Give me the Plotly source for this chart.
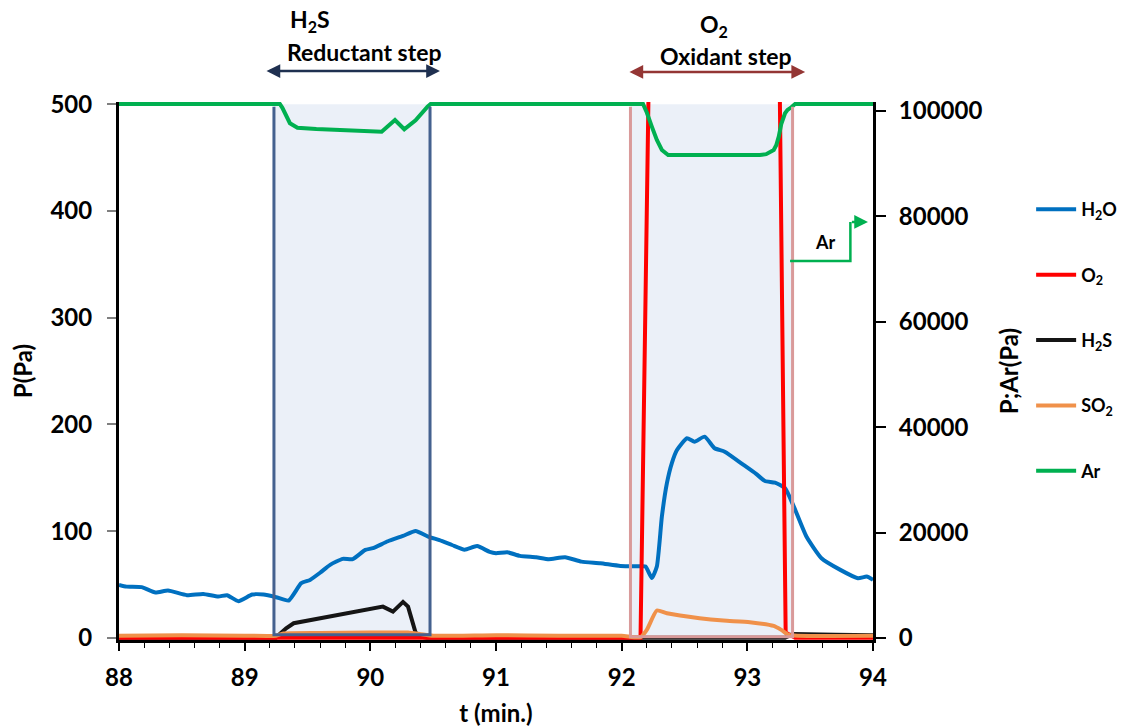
import plotly.graph_objects as go

# ---- measured partial pressures during one reduction / oxidation cycle ----
# H2O (Pa, left axis)
t_h2o = [88.0, 88.06, 88.18, 88.29, 88.39, 88.54, 88.67, 88.79, 88.86, 88.95,
         89.06, 89.15, 89.25, 89.35, 89.45, 89.52, 89.60, 89.68, 89.78, 89.86,
         89.96, 90.02, 90.14, 90.26, 90.36, 90.46, 90.55, 90.65, 90.75, 90.85,
         90.95, 91.00, 91.09, 91.19, 91.32, 91.42, 91.55, 91.68, 91.83, 91.99,
         92.15, 92.19, 92.24, 92.28, 92.32, 92.36, 92.40, 92.44, 92.52, 92.58,
         92.66, 92.74, 92.82, 92.97, 93.07, 93.14, 93.22, 93.30, 93.37, 93.47,
         93.59, 93.74, 93.88, 93.95, 94.0]
p_h2o = [49.6, 48.0, 47.5, 42.4, 44.3, 40.0, 41.2, 38.7, 40.0, 34.4,
         40.6, 40.6, 38.1, 35.0, 51.2, 54.3, 61.0, 68.4, 74.0, 73.7,
         82.4, 84.0, 90.5, 95.5, 100.2, 94.9, 91.5, 87.0, 82.6, 86.0,
         80.5, 79.3, 80.2, 76.8, 75.5, 73.7, 75.5, 71.4, 69.9, 67.4,
         67.0, 66.8, 56.0, 66.8, 113.6, 144.9, 164.0, 176.0, 187.0, 183.8,
         188.5, 177.6, 174.4, 162.0, 153.6, 147.0, 145.4, 140.2, 123.0, 94.9,
         74.6, 63.7, 55.9, 57.4, 54.3]

# O2 (Pa, left axis) - saturates far above the 500 Pa scale in the oxidant step
t_o2 = [88.0, 92.15, 92.225, 93.25, 93.305, 93.34, 93.38, 94.0]
p_o2 = [0, 0, 600, 600, 5, 3, 0, 0]

# H2S (Pa, left axis)
t_h2s = [88.0, 89.25, 89.28, 89.33, 89.39, 89.60, 89.80, 90.00, 90.10, 90.18,
         90.26, 90.30, 90.36, 90.40, 90.45, 93.30, 93.36, 93.70, 94.0]
p_h2s = [0, 0, 3.7, 9.0, 13.7, 18.5, 23.0, 27.0, 29.3, 24.6,
         33.7, 29.3, 5.0, 1.2, 0, 0, 3.5, 3.0, 2.5]

# SO2 (Pa, left axis)
t_so2 = [88.0, 88.5, 89.0, 89.25, 89.30, 89.60, 90.00, 90.30, 90.40, 90.50,
         91.0, 91.5, 92.0, 92.15, 92.20, 92.28, 92.36, 92.62, 92.81, 93.02,
         93.21, 93.27, 93.33, 93.40, 94.0]
p_so2 = [2.0, 2.5, 2.0, 2.0, 4.0, 4.5, 5.0, 5.0, 3.5, 2.0,
         2.5, 2.0, 2.0, 0.7, 7.5, 25.6, 23.0, 18.4, 16.2, 14.7,
         11.2, 7.5, 2.8, 2.0, 2.0]

# Ar carrier gas (Pa, right axis)
t_ar = [88.0, 89.28, 89.30, 89.33, 89.36, 89.42, 89.57, 90.09, 90.196, 90.27,
        90.36, 90.455, 90.48, 92.17, 92.20, 92.24, 92.28, 92.32, 92.35, 92.37,
        93.10, 93.15, 93.21, 93.23, 93.25, 93.27, 93.30, 93.32, 93.35, 93.38,
        94.0]
p_ar = [101325, 101325, 100600, 99000, 97670, 96830, 96580, 96070, 98290, 96530,
        98220, 100820, 101325, 101325, 99700, 97020, 94500, 92600, 91900, 91650,
        91650, 91800, 92600, 93500, 95120, 97500, 99560, 100200, 100700, 101325,
        101325]

# gas-switching steps (start, end in min)
reductant_step = (89.233, 90.475)
oxidant_step = (92.07, 93.36)

left_ticks = [0, 100, 200, 300, 400, 500]
right_ticks = [0, 20000, 40000, 60000, 80000, 100000]
x_ticks = [88, 89, 90, 91, 92, 93, 94]

FONT = "Lato"
BLUE, RED, BLACK, ORANGE, GREEN = "#0070C0", "#FF0000", "#151515", "#F0914A", "#00B050"

X_RANGE = [88, 94]
PLOT_W = 1130 - 119 - 257          # pixel width of the plotting area
PX_PER_MIN = PLOT_W / (X_RANGE[1] - X_RANGE[0])

fig = go.Figure()

# (legend label, t, p, colour, axis, line shape, legend position)
series = [
    ("H<sub>2</sub>O", t_h2o, p_h2o, BLUE, "y", "spline", 0),
    ("H<sub>2</sub>S", t_h2s, p_h2s, BLACK, "y", "linear", 2),
    ("O<sub>2</sub>", t_o2, p_o2, RED, "y", "linear", 1),
    ("SO<sub>2</sub>", t_so2, p_so2, ORANGE, "y", "spline", 3),
    ("Ar", t_ar, p_ar, GREEN, "y2", "linear", 4),
]
for name, t, p, color, yax, shape, rank in series:
    fig.add_trace(go.Scatter(
        x=t, y=p, name=name, mode="lines", yaxis=yax,
        line=dict(color=color, width=4, shape=shape, smoothing=0.5),
        legendgroup=f"g{rank}", legendrank=rank,
    ))

# shaded step windows: fill beneath the curves; sides and bottom edge on top,
# leaving the top edge to the Ar trace running along 500 Pa
for (x0, x1), y0, edge in [(reductant_step, 3, "#44618F"),
                           (oxidant_step, 1, "#D99A9A")]:
    fig.add_shape(type="rect", xref="x", yref="y", x0=x0, x1=x1, y0=y0, y1=500,
                  fillcolor="#EBF0F8", line=dict(width=0), layer="below")
    fig.add_shape(type="path", xref="x", yref="y",
                  path=f"M {x0},497.5 L {x0},{y0} L {x1},{y0} L {x1},497.5",
                  line=dict(color=edge, width=3), layer="above")

# double-headed arrows marking each step (drawn above the plotting area)
for (x0, x1), y, color in [((89.162, 90.554), 1.0576, "#1F3050"),
                           ((92.05, 93.46), 1.0558, "#943634")]:
    fig.add_annotation(x=x1, y=y, xref="x", yref="paper",
                       ax=-(x1 - x0) * PX_PER_MIN, ay=0, axref="pixel", ayref="pixel",
                       text="", showarrow=True, arrowside="end+start",
                       arrowhead=2, startarrowhead=2, arrowsize=1.1, startarrowsize=1.1,
                       arrowwidth=2.5, arrowcolor=color, standoff=0, startstandoff=0)

step_labels = [
    ("H<sub>2</sub>S", 89.52, 1.152),
    ("Reductant step", 89.95, 1.093),
    ("O<sub>2</sub>", 92.735, 1.143),
    ("Oxidant step", 92.83, 1.086),
]
for txt, x, y in step_labels:
    fig.add_annotation(x=x, y=y, xref="x", yref="paper", text=txt, showarrow=False,
                       xanchor="center", yanchor="middle",
                       font=dict(family=FONT, size=23, color="black", weight="bold"))

# Ar pointer to the right axis
fig.add_shape(type="path", xref="x", yref="y2",
              path="M 93.34,71540 L 93.82,71540 L 93.82,78940",
              line=dict(color=GREEN, width=2.5))
fig.add_annotation(x=93.96, y=78940, ax=93.82, ay=78940, xref="x", yref="y2",
                   axref="x", ayref="y2", text="", showarrow=True, arrowhead=2,
                   arrowsize=1.1, arrowwidth=2.5, arrowcolor=GREEN, standoff=0)
fig.add_annotation(x=93.62, y=75200, xref="x", yref="y2", text="Ar", showarrow=False,
                   font=dict(family=FONT, size=18, color="black", weight="bold"))

tickfont = dict(family=FONT, size=24, color="black", weight="bold")
titlefont = dict(family=FONT, size=24, color="black", weight="bold")

fig.update_layout(
    width=1130, height=728,
    margin=dict(l=119, r=257, t=102, b=88, autoexpand=False),
    paper_bgcolor="white", plot_bgcolor="white",
    font=dict(family=FONT, color="black"),
    showlegend=True,
    legend=dict(xref="container", yref="container", x=0.9125, y=0.7376,
                xanchor="left", yanchor="top",
                font=dict(family=FONT, size=18, color="black", weight="bold"),
                tracegroupgap=39, itemwidth=40, bgcolor="rgba(0,0,0,0)"),
    xaxis=dict(range=X_RANGE, tickvals=x_ticks, ticks="outside", ticklen=8,
               tickwidth=1.5, tickcolor="black", showline=True, linecolor="black",
               linewidth=2.5, showgrid=False, zeroline=False, tickfont=tickfont,
               ticklabelstandoff=6, automargin=False,
               minor=dict(dtick=0.2, ticks="outside", ticklen=5, tickcolor="black",
                          tickwidth=1.2, showgrid=False),
               title=dict(text="t (min.)", font=titlefont, standoff=16)),
    yaxis=dict(range=[-2, 502], tickvals=left_ticks, ticks="outside", ticklen=9,
               tickcolor="#7F7F7F", tickwidth=1.5, showline=True, linecolor="black",
               linewidth=3, showgrid=False, zeroline=False, tickfont=tickfont,
               ticklabelstandoff=10, automargin=False,
               title=dict(text="P(Pa)", font=titlefont, standoff=12)),
    yaxis2=dict(range=[-380, 101700], tickvals=right_ticks, tickformat="d",
                overlaying="y", side="right",
                ticks="outside", ticklen=10, tickcolor="black", tickwidth=1.5,
                showline=True, linecolor="black", linewidth=3, showgrid=False,
                zeroline=False, tickfont=tickfont, ticklabelstandoff=8, automargin=False,
                title=dict(text="P;Ar(Pa)", font=titlefont, standoff=20)),
)

fig.write_html("out.html")
